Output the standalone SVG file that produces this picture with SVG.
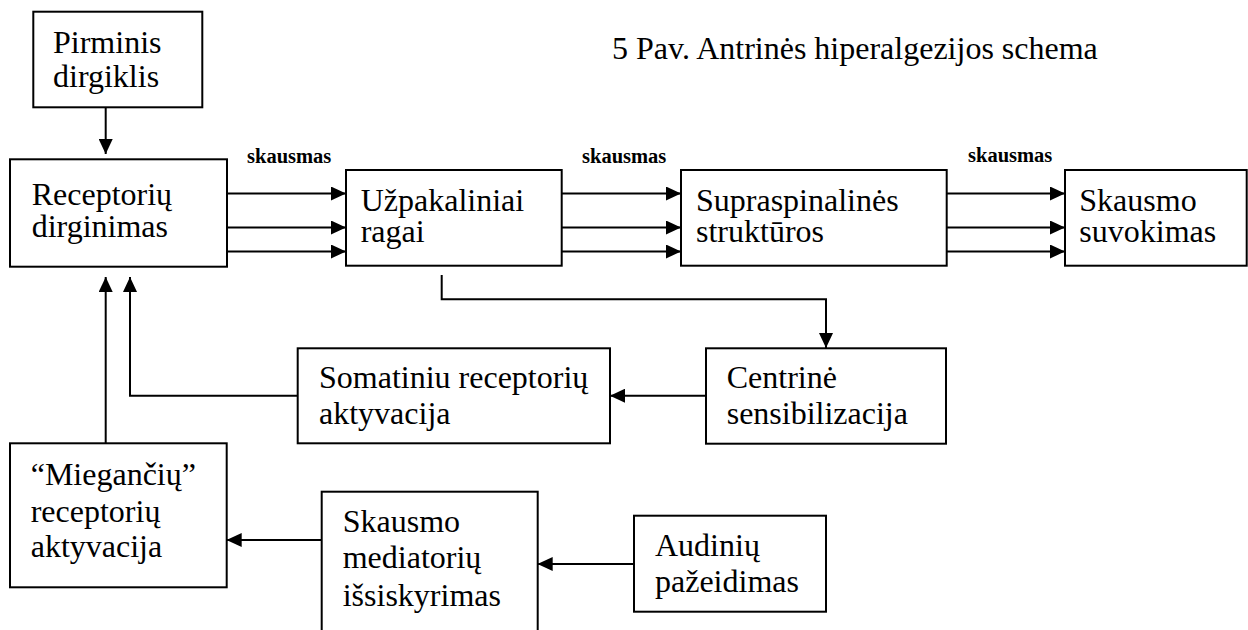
<svg xmlns="http://www.w3.org/2000/svg" width="1248" height="630" viewBox="0 0 1248 630">
<style>
.box{fill:#fff;stroke:#000;stroke-width:2}
.t{font-family:"Liberation Serif","Times New Roman",serif;font-size:32px;fill:#000}
.lbl{font-family:"Liberation Serif","Times New Roman",serif;font-size:20.5px;font-weight:bold;fill:#000}
.c{fill:none;stroke:#000;stroke-width:2;marker-end:url(#ah)}
</style>
<defs>
<marker id="ah" viewBox="0 0 15 14" refX="15" refY="7" markerWidth="15" markerHeight="14" markerUnits="userSpaceOnUse" orient="auto">
<path d="M0,0 L15,7 L0,14 z" fill="#000"/>
</marker>
</defs>
<rect width="1248" height="630" fill="#fff"/>
<text class="t" x="612" y="59">5 Pav. Antrinės hiperalgezijos schema</text>
<g id="connectors">
<line class="c" x1="105.7" y1="107" x2="105.7" y2="154"/>
<line class="c" x1="227" y1="193.5" x2="346" y2="193.5"/>
<line class="c" x1="227" y1="227.5" x2="346" y2="227.5"/>
<line class="c" x1="227" y1="251.5" x2="346" y2="251.5"/>
<line class="c" x1="562" y1="193.5" x2="681" y2="193.5"/>
<line class="c" x1="562" y1="227.5" x2="681" y2="227.5"/>
<line class="c" x1="562" y1="251.5" x2="681" y2="251.5"/>
<line class="c" x1="947" y1="193.5" x2="1065" y2="193.5"/>
<line class="c" x1="947" y1="227.5" x2="1065" y2="227.5"/>
<line class="c" x1="947" y1="251.5" x2="1065" y2="251.5"/>
<polyline class="c" points="441.7,275 441.7,299.3 826,299.3 826,348"/>
<line class="c" x1="706" y1="395.7" x2="610" y2="395.7"/>
<polyline class="c" points="297.7,395.7 130,395.7 130,277"/>
<line class="c" x1="105.7" y1="443" x2="105.7" y2="277"/>
<line class="c" x1="321.7" y1="540" x2="226.7" y2="540"/>
<line class="c" x1="634" y1="564" x2="537.7" y2="564"/>
<text class="lbl" x="247" y="163">skausmas</text>
<text class="lbl" x="582" y="163">skausmas</text>
<text class="lbl" x="968" y="162">skausmas</text>
</g>
<g id="pirminis">
<rect class="box" x="33.3" y="11.7" width="169" height="95.6"/>
<text class="t" x="53" y="52.7">Pirminis</text>
<text class="t" x="53" y="87.3">dirgiklis</text>
</g>
<g id="receptoriu">
<rect class="box" x="10" y="159.3" width="217" height="107.4"/>
<text class="t" x="31.7" y="205">Receptorių</text>
<text class="t" x="31.7" y="236.5">dirginimas</text>
</g>
<g id="uzpakaliniai">
<rect class="box" x="346" y="170" width="215.7" height="95.7"/>
<text class="t" x="360.7" y="210.7">Užpakaliniai</text>
<text class="t" x="360.7" y="241.5">ragai</text>
</g>
<g id="supraspinalines">
<rect class="box" x="681" y="170" width="265.7" height="95.7"/>
<text class="t" x="696" y="210.7">Supraspinalinės</text>
<text class="t" x="696" y="241.5">struktūros</text>
</g>
<g id="suvokimas">
<rect class="box" x="1065" y="170" width="181.7" height="95.7"/>
<text class="t" x="1079.3" y="210.7">Skausmo</text>
<text class="t" x="1079.3" y="241.5">suvokimas</text>
</g>
<g id="centrine">
<rect class="box" x="706" y="348.3" width="240" height="95.4"/>
<text class="t" x="726.7" y="388.3">Centrinė</text>
<text class="t" x="726.7" y="424.3">sensibilizacija</text>
</g>
<g id="somatiniu">
<rect class="box" x="297.7" y="348.3" width="312.3" height="95"/>
<text class="t" x="319" y="388.3">Somatiniu receptorių</text>
<text class="t" x="319" y="424.3">aktyvacija</text>
</g>
<g id="mieganciu">
<rect class="box" x="10" y="443.3" width="216.7" height="144"/>
<text class="t" x="30.7" y="485">“Miegančių”</text>
<text class="t" x="30.7" y="521.7">receptorių</text>
<text class="t" x="30.7" y="557.3">aktyvacija</text>
</g>
<g id="mediatoriu">
<rect class="box" x="321.7" y="491.7" width="216" height="160"/>
<text class="t" x="342.7" y="531.7">Skausmo</text>
<text class="t" x="342.7" y="568.3">mediatorių</text>
<text class="t" x="342.7" y="605.7">išsiskyrimas</text>
</g>
<g id="audiniu">
<rect class="box" x="634" y="515.7" width="192" height="96"/>
<text class="t" x="655" y="556">Audinių</text>
<text class="t" x="655" y="591.7">pažeidimas</text>
</g>
</svg>
